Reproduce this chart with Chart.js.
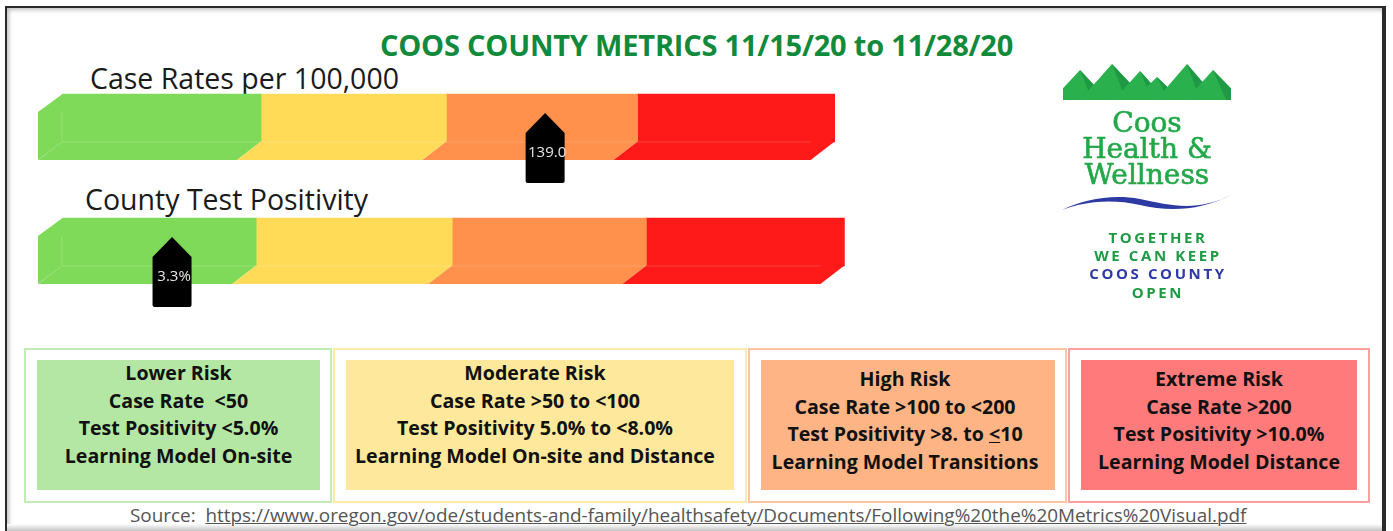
<!DOCTYPE html>
<html>
<head>
<meta charset="utf-8">
<script src="https://cdn.jsdelivr.net/npm/chart.js@4.4.1/dist/chart.umd.min.js"></script>
<style>
  html, body { margin: 0; padding: 0; background: #fff; }
  body { width: 1393px; height: 531px; position: relative; overflow: hidden; font-family: 'Open Sans', sans-serif; }
  .frame { position: absolute; left: 5px; top: 6px; width: 1381px; height: 540px; border: 2px solid #2a2a2a; border-right-width: 4px; box-sizing: border-box;
           box-shadow: inset 2px 2px 4px rgba(0,0,0,0.25); }
  .shade { position: absolute; left: 7px; top: 524px; width: 1375px; height: 8px; background: linear-gradient(#fff, #bbb); }
  .title { position: absolute; left: 0; width: 1393px; top: 27px; text-align: center; font-weight: 700; font-size: 29px; line-height: 36px; color: #118a3c; letter-spacing: -0.2px; }
  .rowlabel { position: absolute; font-size: 28.5px; line-height: 28px; color: #1a1a1a; white-space: nowrap; }
  #gauge { position: absolute; left: 0; top: 0; }
  .outer { position: absolute; top: 348px; height: 155px; border: 2px solid; box-sizing: border-box; }
  .inner { position: absolute; top: 360px; height: 130px; }
  .txt { position: absolute; text-align: center; font-weight: 700; font-size: 19.6px; line-height: 27.7px; color: #111; white-space: nowrap; }
  .source { position: absolute; left: 130px; top: 502px; font-size: 18.9px; line-height: 26px; color: #555; white-space: nowrap; }
  .source u { text-decoration-thickness: 1px; }
  .logo { position: absolute; left: 0; top: 0; }
  .serif { position: absolute; font-family: 'DejaVu Serif', serif; font-size: 28px; line-height: 26px; color: #22a848; -webkit-text-stroke: 0.6px #22a848; white-space: nowrap; text-align: center; width: 200px; left: 1047px; }
  .tag { position: absolute; font-weight: 700; font-size: 15px; line-height: 18px; letter-spacing: 2.6px; white-space: nowrap; text-align: center; width: 200px; left: 1058px; }
</style>
</head>
<body>
<div class="frame"></div>
<div class="shade"></div>
<div class="title">COOS COUNTY METRICS 11/15/20 to 11/28/20</div>

<div class="rowlabel" id="lbl0" style="left:90px; top:64px;"></div>
<div class="rowlabel" id="lbl1" style="left:85px; top:185px;"></div>

<canvas id="gauge" width="900" height="330"></canvas>

<svg class="logo" width="1393" height="320">
  <defs><clipPath id="mclip"><rect x="1063" y="55" width="168" height="45"/></clipPath></defs>
  <g clip-path="url(#mclip)">
    <polygon points="1052,100 1080,70 1108,100" fill="#2bb04e"/>
    <polygon points="1080,70 1108,100 1092,100" fill="#1f9a44"/>
    <polygon points="1080,100 1112,64 1146,100" fill="#2bb04e"/>
    <polygon points="1112,64 1146,100 1126,100" fill="#1f9a44"/>
    <polygon points="1114,100 1140,71 1166,100" fill="#2bb04e"/>
    <polygon points="1140,71 1166,100 1152,100" fill="#1f9a44"/>
    <polygon points="1133,100 1157,77 1181,100" fill="#2bb04e"/>
    <polygon points="1157,77 1181,100 1168,100" fill="#1f9a44"/>
    <polygon points="1156,100 1187,64 1218,100" fill="#2bb04e"/>
    <polygon points="1187,64 1218,100 1200,100" fill="#1f9a44"/>
    <polygon points="1186,100 1213,70 1242,100" fill="#2bb04e"/>
    <polygon points="1213,70 1242,100 1226,100" fill="#1f9a44"/>
  </g>
  <path d="M1062,210 C1085,199 1112,194 1140,199 C1170,205 1196,213 1233,194 C1200,211 1170,212 1140,205 C1112,199 1086,201 1062,210 Z" fill="#2d3aa3"/>
</svg>
<div class="serif" style="top:110px;">Coos</div>
<div class="serif" style="top:136px;">Health &amp;</div>
<div class="serif" style="top:162px;">Wellness</div>
<div class="tag" style="top:228px; color:#1f9a44;">TOGETHER</div>
<div class="tag" style="top:246px; color:#1f9a44;">WE CAN KEEP</div>
<div class="tag" style="top:264px; color:#2d3aa3;">COOS COUNTY</div>
<div class="tag" style="top:283px; color:#1f9a44;">OPEN</div>

<div class="outer" style="left:24px; width:308px; border-color:#c3ebb5;"></div>
<div class="inner" style="left:37px; width:283px; background:#b3e7a3;"></div>
<div class="outer" style="left:333px; width:414px; border-color:#fdeaaa;"></div>
<div class="inner" style="left:346px; width:388px; background:#fde89b;"></div>
<div class="outer" style="left:748px; width:319px; border-color:#ffc4a2;"></div>
<div class="inner" style="left:761px; width:294px; background:#ffb486;"></div>
<div class="outer" style="left:1068px; width:302px; border-color:#ffa0a0;"></div>
<div class="inner" style="left:1081px; width:276px; background:#ff7b7b;"></div>

<div class="txt" style="left:37px; width:283px; top:359px;">Lower Risk<br>Case Rate&nbsp;&nbsp;&lt;50<br>Test Positivity &lt;5.0%<br>Learning Model On-site</div>
<div class="txt" style="left:340px; width:390px; top:359px;">Moderate Risk<br>Case Rate &gt;50 to &lt;100<br>Test Positivity 5.0% to &lt;8.0%<br>Learning Model On-site and Distance</div>
<div class="txt" style="left:758px; width:294px; top:365px;">High Risk<br>Case Rate &gt;100 to &lt;200<br>Test Positivity &gt;8. to <u>&lt;</u>10<br>Learning Model Transitions</div>
<div class="txt" style="left:1081px; width:276px; top:365px;">Extreme Risk<br>Case Rate &gt;200<br>Test Positivity &gt;10.0%<br>Learning Model Distance</div>

<div class="source">Source:&nbsp; <u>https://www.oregon.gov/ode/students-and-family/healthsafety/Documents/Following%20the%20Metrics%20Visual.pdf</u></div>

<script>
// gauge rows
const gaugeLabels = ['Case Rates per 100,000', 'County Test Positivity'];
const riskLevels = ['Lower Risk', 'Moderate Risk', 'High Risk', 'Extreme Risk'];
// drawn width of each risk band, in band units
const caseRateBands = [1.02, 0.95, 0.98, 1.01];
const positivityBands = [0.995, 1.005, 0.995, 1.015];
// current values and where the pointer sits along each bar (band units)
const markerText = ['139.0', '3.3%'];
const markerPos = [2.476, 0.564];

const bandColors = ['#80da5a', '#ffdb58', '#ff914d', '#ff1a1a'];

document.getElementById('lbl0').textContent = gaugeLabels[0];
document.getElementById('lbl1').textContent = gaugeLabels[1];

const DX = 24, DY = 18;

const boxPlugin = {
    id: 'box3d',
    afterDatasetsDraw(chart) {
        const ctx = chart.ctx;
        const xs = chart.scales.x;
        const rows = [];
        ctx.save();
        chart.data.datasets.forEach((ds, di) => {
            const meta = chart.getDatasetMeta(di);
            meta.data.forEach((bar, ri) => {
                const p = bar.getProps(['x', 'y', 'base', 'height'], true);
                const left = Math.min(p.base, p.x), right = Math.max(p.base, p.x);
                const top = p.y - p.height / 2, bot = p.y + p.height / 2;
                ctx.fillStyle = ds.backgroundColor;
                // bottom lip
                ctx.beginPath();
                ctx.moveTo(left, bot - 0.5);
                ctx.lineTo(right, bot - 0.5);
                ctx.lineTo(right - DX, bot + DY);
                ctx.lineTo(left - DX, bot + DY);
                ctx.closePath();
                ctx.fill();
                if (di === 0) {
                    // left side
                    ctx.beginPath();
                    ctx.moveTo(left + 0.5, top);
                    ctx.lineTo(left - DX, top + DY);
                    ctx.lineTo(left - DX, bot + DY);
                    ctx.lineTo(left + 0.5, bot);
                    ctx.closePath();
                    ctx.fill();
                    rows[ri] = { left, top, bot };
                }
                rows[ri].right = right;
            });
        });
        // faint hidden edges
        ctx.strokeStyle = 'rgba(255,255,255,0.18)';
        ctx.lineWidth = 1;
        rows.forEach(r => {
            ctx.beginPath();
            ctx.moveTo(r.left, r.top + DY);
            ctx.lineTo(r.left, r.bot);
            ctx.lineTo(r.right - DX, r.bot);
            ctx.moveTo(r.left, r.bot);
            ctx.lineTo(r.left - DX, r.bot + DY);
            ctx.stroke();
        });
        // pointers
        rows.forEach((r, i) => {
            const cx = xs.getPixelForValue(markerPos[i]);
            const w = 19.5;
            ctx.fillStyle = '#000';
            ctx.beginPath();
            ctx.moveTo(cx, r.top + 19);
            ctx.lineTo(cx + w, r.top + 39);
            ctx.lineTo(cx + w, r.top + 87);
            ctx.quadraticCurveTo(cx + w, r.top + 89, cx + w - 2, r.top + 89);
            ctx.lineTo(cx - w + 2, r.top + 89);
            ctx.quadraticCurveTo(cx - w, r.top + 89, cx - w, r.top + 87);
            ctx.lineTo(cx - w, r.top + 39);
            ctx.closePath();
            ctx.fill();
            ctx.fillStyle = '#e6e6e6';
            ctx.font = '15px "Open Sans"';
            ctx.textAlign = 'center';
            ctx.textBaseline = 'middle';
            ctx.fillText(markerText[i], cx + 2, r.top + 59);
        });
        ctx.restore();
    }
};

new Chart(document.getElementById('gauge'), {
    type: 'bar',
    data: {
        labels: gaugeLabels,
        datasets: riskLevels.map((name, i) => ({
            label: name,
            data: [caseRateBands[i], positivityBands[i]],
            backgroundColor: bandColors[i],
            borderWidth: 0,
            barThickness: 48
        }))
    },
    options: {
        indexAxis: 'y',
        responsive: false,
        animation: false,
        devicePixelRatio: 1,
        layout: { padding: { left: 62, right: 38, top: 56, bottom: 26 } },
        plugins: { legend: { display: false }, tooltip: { enabled: false } },
        scales: {
            x: { type: 'linear', min: 0, max: 4.1, stacked: true, display: false },
            y: { stacked: true, display: false }
        }
    },
    plugins: [boxPlugin]
});
</script>
</body>
</html>
